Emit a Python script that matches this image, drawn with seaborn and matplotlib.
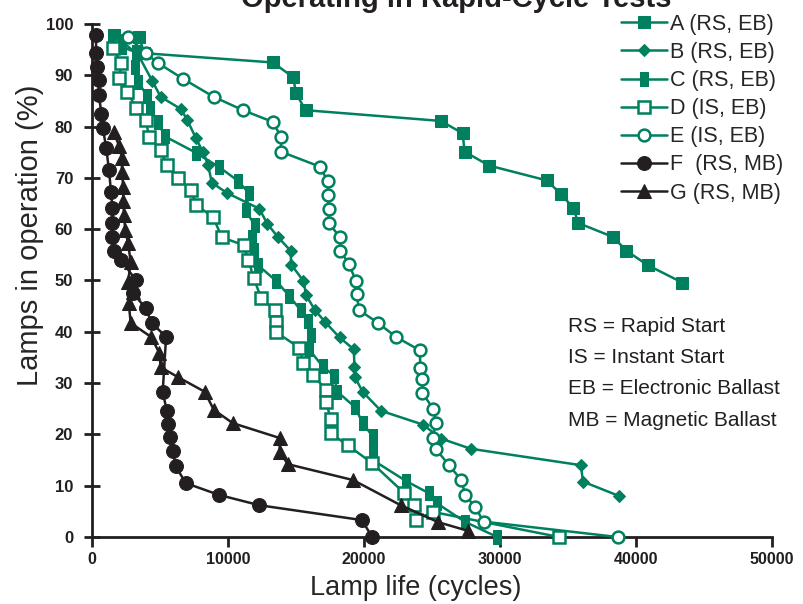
import matplotlib
matplotlib.use("Agg")
import matplotlib.pyplot as plt
from matplotlib.ticker import FuncFormatter, MultipleLocator
import seaborn as sns

# Lamp life (cycles) and lamps still in operation (%) per lamp/ballast system
A_x = [1600, 3450, 3850, 13300, 14800, 15000, 15700, 25650, 27250, 27400, 29200, 33450,
       34500, 35400, 35750, 38300, 39300, 40850, 43400]
A_y = [97.9, 97.5, 94.3, 92.5, 89.6, 86.5, 83.2, 81.1, 78.7, 75.1, 72.4, 69.5,
       66.8, 64.1, 61.2, 58.5, 55.8, 53.0, 49.6]

B_x = [2000, 3400, 4450, 5050, 6550, 7000, 7650, 8150, 8550, 8800, 9900, 12300, 12900, 13700,
       14600, 14650, 15550, 15750, 16400, 17150, 18200, 19250, 19300, 19350, 19900, 21250,
       24350, 25650, 27850, 35950, 36100, 38750]
B_y = [97.0, 94.0, 88.8, 85.8, 83.4, 81.3, 77.7, 75.1, 72.5, 69.1, 67.1, 64.0, 61.0, 58.4,
       55.8, 53.1, 49.9, 47.1, 44.2, 41.9, 38.9, 36.6, 33.2, 31.1, 28.3, 24.6,
       21.9, 19.2, 17.2, 14.0, 10.8, 8.0]

C_x = [1750, 2200, 3250, 3150, 3400, 4050, 4250, 4850, 5350, 7650, 9350, 10750, 11550, 11300,
       11950, 11750, 11900, 12200, 13550, 14500, 15350, 15850, 16100, 15950, 16950, 17800,
       18050, 19350, 19900, 20650, 20650, 20650, 23100, 24800, 25350, 27400, 29800]
C_y = [97.5, 95.5, 94.5, 91.6, 88.7, 86.0, 83.6, 80.9, 78.1, 74.9, 72.1, 69.4, 67.0, 63.7,
       60.8, 58.5, 55.9, 53.0, 49.9, 47.0, 44.2, 42.1, 39.4, 36.6, 33.3, 31.4,
       28.3, 25.3, 22.2, 19.6, 17.6, 15.0, 10.9, 8.5, 6.6, 3.0, 0]

D_x = [1550, 2150, 2000, 2600, 3250, 3950, 4200, 5050, 5500, 6300, 7300, 7650, 8900, 9550,
       11150, 11500, 11900, 12450, 13450, 13550, 13550, 15250, 15550, 16250, 17200, 17200,
       17550, 17550, 18800, 20600, 22950, 23700, 23800, 25050, 34350]
D_y = [95.3, 92.3, 89.4, 86.8, 83.6, 81.3, 78.0, 75.4, 72.5, 69.9, 67.6, 64.7, 62.4, 58.4,
       56.9, 54.0, 50.4, 46.5, 44.2, 42.0, 39.9, 36.9, 33.9, 31.6, 28.7, 26.4,
       23.1, 20.2, 17.9, 14.4, 8.6, 6.2, 3.3, 4.9, 0]

E_x = [2650, 3950, 4850, 6700, 8950, 11100, 13300, 13900, 13900, 16750, 17350, 17350, 17400,
       17400, 18250, 18250, 18900, 19400, 19450, 19650, 21000, 22350, 24100, 24150, 24300,
       24300, 25100, 25300, 25050, 25300, 26250, 27150, 27450, 28150, 28800, 38650]
E_y = [97.5, 94.3, 92.4, 89.3, 85.8, 83.2, 80.9, 78.0, 75.1, 72.2, 69.3, 66.6, 63.9,
       61.2, 58.4, 55.8, 53.2, 49.9, 47.3, 44.2, 41.8, 39.0, 36.4, 33.0, 30.8,
       28.1, 24.9, 22.3, 19.3, 17.1, 14.0, 11.1, 8.2, 5.9, 3.0, 0]

F_x = [300, 300, 350, 500, 500, 700, 800, 1050, 1250, 1400, 1500, 1500, 1500, 1650, 2150, 3250,
       3000, 3950, 4400, 5450, 5200, 5500, 5600, 5700, 5950, 6150, 6900, 9350, 12300, 19850, 20600]
F_y = [97.9, 94.3, 91.6, 89.1, 86.2, 82.5, 79.7, 75.8, 71.5, 67.3, 64.2, 61.3, 58.4, 55.8, 53.9, 50.0,
       47.6, 44.6, 41.7, 39.0, 28.3, 24.6, 22.0, 19.4, 16.8, 13.8, 10.5, 8.2, 6.2, 3.3, 0]

G_x = [1600, 2000, 2200, 2200, 2300, 2300, 2350, 2450, 2650, 2850, 2650, 3000, 2700, 2850,
       4350, 4950, 5050, 6300, 8300, 8950, 10350, 13800, 13800, 14400, 19200, 22700, 25450, 27650]
G_y = [78.9, 76.2, 73.9, 71.2, 68.2, 65.5, 62.8, 59.8, 57.3, 53.6, 49.7, 47.8, 45.6, 41.7,
       39.0, 35.9, 33.1, 31.2, 28.3, 24.8, 22.2, 19.3, 16.6, 14.2, 11.1, 6.2, 2.9, 1.2]

LABELS = ["A (RS, EB)", "B (RS, EB)", "C (RS, EB)", "D (IS, EB)", "E (IS, EB)", "F  (RS, MB)", "G (RS, MB)"]
NOTES = ["RS = Rapid Start", "IS = Instant Start", "EB = Electronic Ballast", "MB = Magnetic Ballast"]

GREEN = "#00805e"
BLACK = "#231f20"
RECT = [(-0.55, -1), (0.55, -1), (0.55, 1), (-0.55, 1), (-0.55, -1)]

sns.set_style("ticks")
plt.rcParams["font.family"] = ["Liberation Sans", "DejaVu Sans"]

fig = plt.figure(figsize=(8.04, 6.04), dpi=100)
ax = fig.add_axes([0.1144, 0.1109, 0.8458, 0.8494])

series = [
    (A_x, A_y, dict(color=GREEN, marker="s", markersize=9, markerfacecolor=GREEN, markeredgecolor=GREEN)),
    (B_x, B_y, dict(color=GREEN, marker="D", markersize=6.5, markerfacecolor=GREEN, markeredgecolor=GREEN)),
    (C_x, C_y, dict(color=GREEN, marker=RECT, markersize=10, markerfacecolor=GREEN, markeredgecolor=GREEN)),
    (D_x, D_y, dict(color=GREEN, marker="s", markersize=8.5, markerfacecolor="white", markeredgecolor=GREEN,
                    markeredgewidth=1.8)),
    (E_x, E_y, dict(color=GREEN, marker="o", markersize=8.5, markerfacecolor="white", markeredgecolor=GREEN,
                    markeredgewidth=1.8)),
    (F_x, F_y, dict(color=BLACK, marker="o", markersize=10, markerfacecolor=BLACK, markeredgecolor=BLACK)),
    (G_x, G_y, dict(color=BLACK, marker="^", markersize=10, markerfacecolor=BLACK, markeredgecolor=BLACK)),
]

for (xs, ys, style), label in zip(series, LABELS):
    sns.lineplot(x=xs, y=ys, ax=ax, sort=False, estimator=None, linewidth=1.8,
                 label=label, clip_on=False, zorder=3, **style)

ax.set_xlim(0, 50000)
ax.set_ylim(0, 100)
ax.xaxis.set_major_locator(MultipleLocator(10000))
ax.yaxis.set_major_locator(MultipleLocator(10))
ax.xaxis.set_major_formatter(FuncFormatter(lambda v, p: "%d" % v))

for side in ["top", "right"]:
    ax.spines[side].set_visible(False)
for side in ["left", "bottom"]:
    ax.spines[side].set_linewidth(2)
    ax.spines[side].set_color(BLACK)

ax.tick_params(axis="y", direction="inout", length=11, width=2, pad=8, labelsize=12, colors=BLACK)
ax.tick_params(axis="x", direction="out", length=7, width=2, pad=4, labelsize=11.5, colors=BLACK)
for lab in ax.get_xticklabels() + ax.get_yticklabels():
    lab.set_fontweight("bold")

ax.set_xlabel("Lamp life (cycles)", fontsize=19.5)
ax.set_ylabel("Lamps in operation (%)", fontsize=21)
ax.xaxis.set_label_coords(0.476, -0.099)
ax.xaxis.label.set_va("center")
ax.yaxis.set_label_coords(-0.091, 0.589)
ax.yaxis.label.set_va("center")

for i, note in enumerate(NOTES):
    ax.text(35000, 41.1 - i * 6.1, note, fontsize=15, va="center", ha="left", color=BLACK)

ax.legend(loc="upper left", bbox_to_anchor=(0.773, 0.977), bbox_transform=fig.transFigure,
          frameon=False, fontsize=15.5, handlelength=2.1, handletextpad=0.15,
          labelspacing=0.33, borderpad=0, borderaxespad=0, numpoints=1)

# title sits partly above the top edge, as in the source figure
fig.text(0.567, 1 - 7 / 604, "Operating in Rapid-Cycle Tests", ha="center", va="baseline",
         fontsize=21, fontweight="bold", color=BLACK)

fig.savefig("out.png", dpi=100)
